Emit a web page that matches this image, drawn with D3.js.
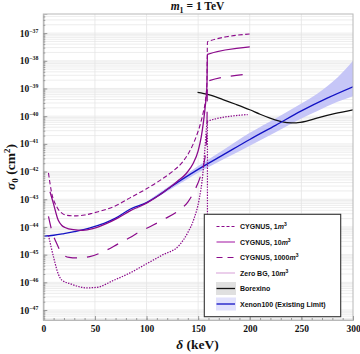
<!DOCTYPE html>
<html>
<head>
<meta charset="utf-8">
<script src="https://d3js.org/d3.v7.min.js"></script>
<style>
  body { margin: 0; background: #fff; }
  svg { display: block; }
  .serif { font-family: "Liberation Serif", "Times New Roman", serif; font-weight: bold; }
  .legend text { font-family: "Liberation Sans", Arial, sans-serif; font-weight: bold; font-size: 7px; fill: #111; }
</style>
</head>
<body>
<div id="chart"></div>
<script>
// values: [delta (keV), log10 sigma0 (cm^2)]
var cygnus1 = [[5,-42.05],[8,-42.75],[13,-43.27],[18,-43.5],[23,-43.58],[32,-43.6],[40,-43.57],[48,-43.5],[58,-43.4],[68,-43.27],[84,-42.95],[100,-42.62],[115,-42.27],[125,-42.0],[135,-41.65],[142,-41.25],[148,-40.75],[152,-40.3],[155,-39.85],[157,-39.45],[158.5,-38.8],[159,-37.31],[200,-37.03]];
var cygnus10 = [[6.5,-42.73],[9.7,-43.14],[14.5,-43.76],[18,-43.95],[21,-44.02],[29,-44.1],[38,-44.12],[48,-44.06],[61,-43.88],[72,-43.68],[84,-43.42],[100,-43.14],[115,-42.78],[122.6,-42.57],[130,-42.35],[138.7,-42.06],[145,-41.72],[150,-41.25],[153,-40.75],[155,-40.25],[157,-39.6],[158.5,-38.9],[159,-37.77],[200,-37.5]];
var cygnus1000 = [[5,-43.62],[8,-44.1],[13,-44.6],[19,-45.0],[25,-45.1],[32,-45.12],[45,-45.07],[60,-44.86],[72,-44.62],[84,-44.38],[94,-44.16],[106,-43.94],[115,-43.76],[132,-43.38],[140,-43.1],[147,-42.65],[152,-42.2],[155,-41.8],[157.5,-41.2],[158.5,-40.4],[159,-38.74],[200,-38.48]];
var zeroBG = [[5,-44.3],[10,-45.1],[14.5,-45.7],[18,-45.92],[26,-46.05],[34,-46.15],[42,-46.2],[52,-46.18],[68,-45.93],[84,-45.66],[100,-45.33],[115,-45.02],[132,-44.65],[140,-44.2],[146,-43.7],[151,-43.0],[154.5,-42.1],[156.5,-41.2],[158,-40.45],[159,-40.18],[198,-39.94]];
var zeroBGDrop = [[159,-44.05],[159,-40.18]];
var borexino = [[149.4,-39.14],[160,-39.22],[174,-39.4],[187,-39.58],[200,-39.77],[210,-39.93],[219,-40.06],[228,-40.17],[236,-40.23],[245,-40.24],[255,-40.18],[265,-40.07],[282,-39.91],[300,-39.77]];
var xenon100 = [[0,-44.33],[10,-44.3],[20,-44.24],[30,-44.17],[40,-44.09],[50,-43.98],[60,-43.85],[70,-43.68],[84,-43.36],[100,-43.12],[112,-42.85],[122.6,-42.58],[132.5,-42.33],[150,-41.92],[175,-41.38],[200,-40.84],[225,-40.33],[250,-39.81],[275,-39.35],[300,-38.94]];
var bandDelta = [90, 100, 125, 150, 175, 200, 225, 250, 265, 275, 285, 300];
var bandUpper = [-43.35, -43.09, -42.45, -41.8, -41.2, -40.6, -40.08, -39.54, -39.2, -38.92, -38.6, -38.0];
var bandLower = [-43.37, -43.15, -42.6, -42.04, -41.55, -41.07, -40.58, -40.08, -39.82, -39.64, -39.48, -39.28];

var xTicks = [0, 50, 100, 150, 200, 250, 300];
var yDecades = [-47, -46, -45, -44, -43, -42, -41, -40, -39, -38, -37];

var width = 360, height = 354;
var pLeft = 43.3, pRight = 353, pTop = 14, pBottom = 320;
var purple = "#8b0a8b";

var x = d3.scaleLinear().domain([0, 300]).range([pLeft, pRight]);
var y = d3.scaleLog().domain([Math.pow(10, -47.36), Math.pow(10, -36.31)]).range([pBottom, pTop]);

var svg = d3.select("#chart").append("svg")
    .attr("width", width)
    .attr("height", height);

svg.append("clipPath").attr("id", "clip")
    .append("rect")
    .attr("x", pLeft).attr("y", pTop)
    .attr("width", pRight - pLeft).attr("height", pBottom - pTop);

// grid
var minor = [];
for (var e = -48; e <= -37; e++) {
    for (var k = 1; k <= 9; k++) {
        var v = k * Math.pow(10, e);
        if (v >= y.domain()[0] && v <= y.domain()[1]) minor.push(v);
    }
}
var grid = svg.append("g").attr("clip-path", "url(#clip)");
grid.selectAll(".hg").data(minor).enter().append("line")
    .attr("x1", pLeft).attr("x2", pRight)
    .attr("y1", function(d) { return y(d); })
    .attr("y2", function(d) { return y(d); })
    .attr("stroke", "#e9e9e9").attr("stroke-width", 0.8);
grid.selectAll(".vg").data(xTicks.slice(1, -1)).enter().append("line")
    .attr("y1", pTop).attr("y2", pBottom)
    .attr("x1", function(d) { return x(d); })
    .attr("x2", function(d) { return x(d); })
    .attr("stroke", "#e4e4e4").attr("stroke-width", 0.8);

var plot = svg.append("g").attr("clip-path", "url(#clip)");

// xenon band
var area = d3.area()
    .x(function(d, i) { return x(bandDelta[i]); })
    .y0(function(d, i) { return y(Math.pow(10, bandLower[i])); })
    .y1(function(d, i) { return y(Math.pow(10, bandUpper[i])); })
    .curve(d3.curveMonotoneX);
plot.append("path").datum(bandDelta)
    .attr("d", area)
    .attr("fill", "#c6c6f7");

var line = d3.line()
    .x(function(d) { return x(d[0]); })
    .y(function(d) { return y(Math.pow(10, d[1])); })
    .curve(d3.curveMonotoneX);
var straight = d3.line()
    .x(function(d) { return x(d[0]); })
    .y(function(d) { return y(Math.pow(10, d[1])); });

var series = [
    { data: borexino, color: "#111", dash: null, w: 1.2 },
    { data: xenon100, color: "#1212c4", dash: null, w: 1.3 },
    { data: cygnus1, color: purple, dash: "4.5,2.5", w: 1.1 },
    { data: cygnus10, color: purple, dash: null, w: 1.3 },
    { data: cygnus1000, color: purple, dash: "12,10", w: 1.2 },
    { data: zeroBG, color: purple, dash: "1.4,1.3", w: 1.25 }
];
series.forEach(function(s) {
    plot.append("path").datum(s.data)
        .attr("d", line)
        .attr("fill", "none")
        .attr("stroke", s.color)
        .attr("stroke-width", s.w)
        .attr("stroke-dasharray", s.dash);
});
plot.append("path").datum(zeroBGDrop)
    .attr("d", straight)
    .attr("fill", "none")
    .attr("stroke", purple)
    .attr("stroke-width", 1.2)
    .attr("stroke-dasharray", "1.4,1.3");

// frame
svg.append("rect")
    .attr("x", pLeft).attr("y", pTop)
    .attr("width", pRight - pLeft).attr("height", pBottom - pTop)
    .attr("fill", "none").attr("stroke", "#b8b8b8").attr("stroke-width", 1);

// bottom axis
var xAxis = svg.append("g").attr("class", "serif")
    .attr("transform", "translate(0," + pBottom + ")")
    .call(d3.axisBottom(x).tickValues(xTicks).tickSize(-4).tickPadding(5.5)
        .tickFormat(d3.format("d")));
svg.append("g")
    .attr("transform", "translate(0," + pBottom + ")")
    .call(d3.axisBottom(x).tickValues(d3.range(0, 301, 10)).tickSize(-2).tickFormat(""));

// left axis
var yAxis = svg.append("g").attr("class", "serif")
    .attr("transform", "translate(" + pLeft + ",0)")
    .call(d3.axisLeft(y).tickValues(yDecades.map(function(d) { return Math.pow(10, d); }))
        .tickSize(-4).tickPadding(5));
svg.append("g")
    .attr("transform", "translate(" + pLeft + ",0)")
    .call(d3.axisLeft(y).tickValues(minor).tickSize(-2).tickFormat(""));

svg.selectAll(".domain").attr("stroke", "#b8b8b8");
svg.selectAll(".tick line").attr("stroke", "#999");

xAxis.selectAll("text").attr("font-size", 9.5).attr("fill", "#111")
    .attr("font-family", "Liberation Serif, serif").attr("font-weight", "bold");

yAxis.selectAll("text").each(function(d, i) {
    var t = d3.select(this);
    t.text("").attr("fill", "#111")
        .attr("font-family", "Liberation Serif, serif").attr("font-weight", "bold")
        .attr("font-size", 9.5);
    t.append("tspan").text("10");
    t.append("tspan").attr("dy", -4).attr("font-size", 5.8).text("\u2212" + (-yDecades[i]));
});

// title
var title = svg.append("text").attr("class", "serif")
    .attr("x", 197.5).attr("y", 10)
    .attr("text-anchor", "middle")
    .attr("font-size", 11.5).attr("fill", "#111");
title.append("tspan").attr("font-style", "italic").text("m");
title.append("tspan").attr("dy", 2.5).attr("font-size", 8).text("1");
title.append("tspan").attr("dy", -2.5).text(" = 1 TeV");

// axis labels
var xl = svg.append("text").attr("class", "serif")
    .attr("x", 197.5).attr("y", 349)
    .attr("text-anchor", "middle")
    .attr("font-size", 13.5).attr("fill", "#111");
xl.append("tspan").attr("font-style", "italic").text("\u03b4");
xl.append("tspan").text(" (keV)");

var yl = svg.append("text").attr("class", "serif")
    .attr("transform", "translate(15," + 167 + ") rotate(-90)")
    .attr("text-anchor", "middle")
    .attr("font-size", 13.5).attr("fill", "#111");
yl.append("tspan").attr("font-style", "italic").text("\u03c3");
yl.append("tspan").attr("dy", 3).attr("font-size", 9).text("0");
yl.append("tspan").attr("dy", -3).text(" (cm");
yl.append("tspan").attr("dy", -5).attr("font-size", 9).text("2");
yl.append("tspan").attr("dy", 5).text(")");

// legend
var legendItems = [
    { name: "CYGNUS, 1", unit: true, color: purple, dash: "3,2", w: 1.1, box: null },
    { name: "CYGNUS, 10", unit: true, color: "#c060c0", dash: null, w: 1.5, box: null },
    { name: "CYGNUS, 1000", unit: true, color: purple, dash: "6,5", w: 1.2, box: null },
    { name: "Zero BG, 10", unit: true, color: "#b040b0", dash: "1,1", w: 1.2, box: null },
    { name: "Borexino", unit: false, color: "#111", dash: null, w: 1.3, box: "#e0e0e0" },
    { name: "Xenon100 (Existing Limit)", unit: false, color: "#1212c4", dash: null, w: 1.3, box: "#e2e2fc" }
];
var legend = svg.append("g").attr("class", "legend");
legend.append("rect")
    .attr("x", 204.3).attr("y", 214.3)
    .attr("width", 136.4).attr("height", 102.4)
    .attr("fill", "#fff").attr("stroke", "#333").attr("stroke-width", 1.1);

var row = legend.selectAll(".row").data(legendItems).enter().append("g")
    .attr("transform", function(d, i) { return "translate(0," + (226.5 + i * 15.5) + ")"; });
row.filter(function(d) { return d.box; }).append("rect")
    .attr("x", 216).attr("y", -6.5).attr("width", 20).attr("height", 13)
    .attr("fill", function(d) { return d.box; });
row.append("line")
    .attr("x1", 216.5).attr("x2", 235)
    .attr("stroke", function(d) { return d.color; })
    .attr("stroke-width", function(d) { return d.w; })
    .attr("stroke-dasharray", function(d) { return d.dash; });
var lt = row.append("text").attr("x", 240).attr("y", 2.5);
lt.append("tspan").text(function(d) { return d.name; });
lt.filter(function(d) { return d.unit; }).append("tspan").attr("font-style", "italic").text("m");
lt.filter(function(d) { return d.unit; }).append("tspan").attr("dy", -3).attr("font-size", 5).text("3");
</script>
</body>
</html>
